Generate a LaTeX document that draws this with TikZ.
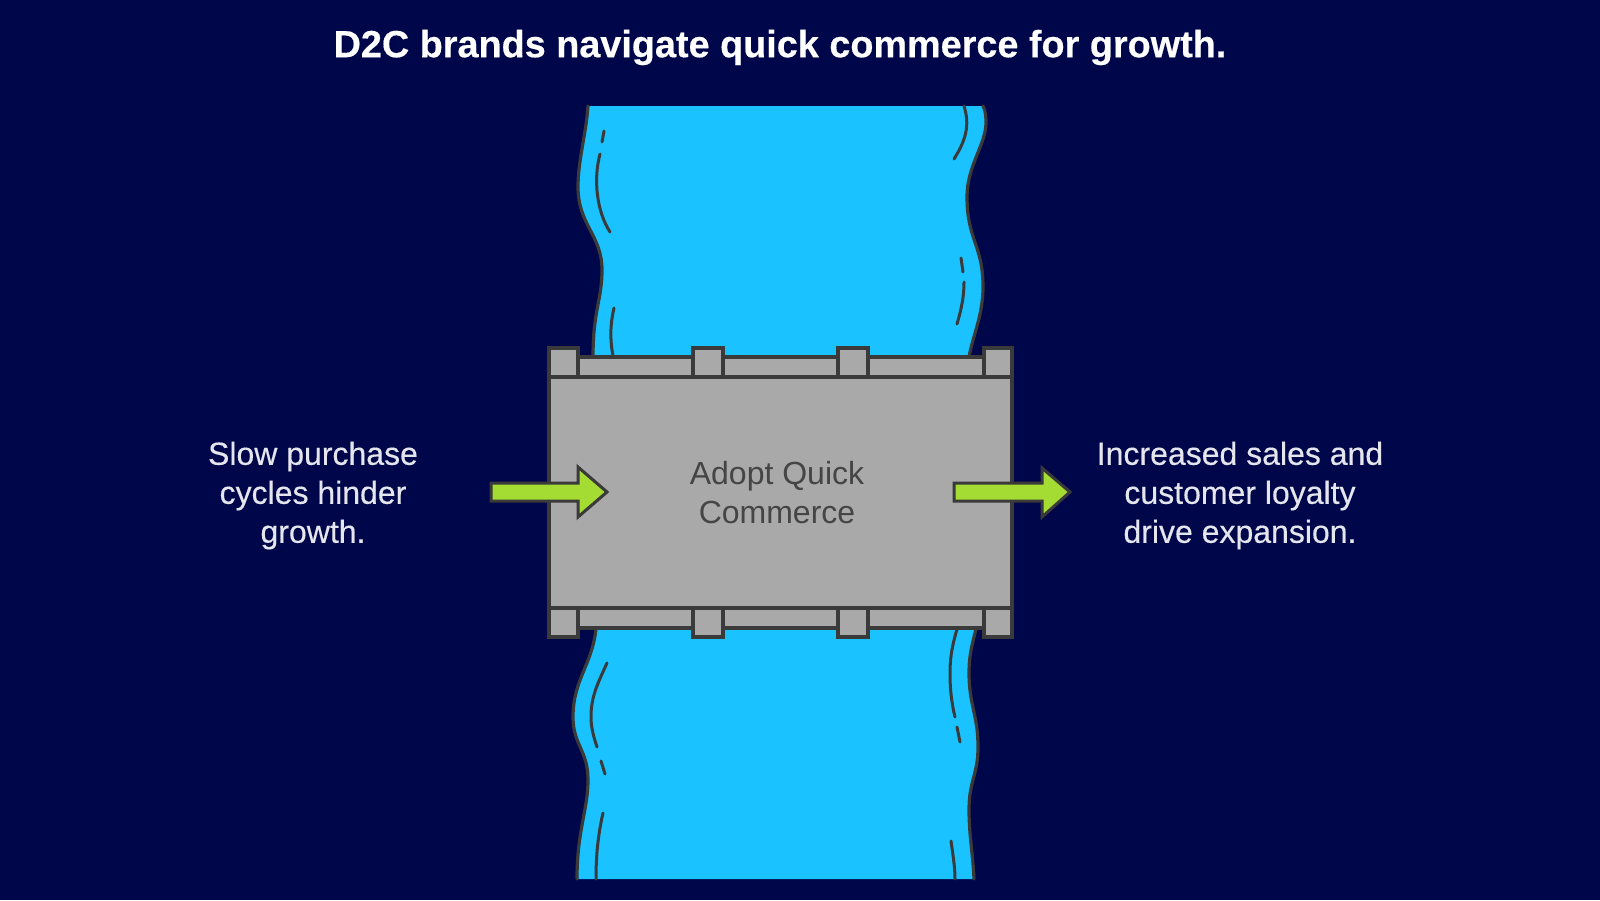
\documentclass[tikz,border=0pt]{standalone}
\usepackage{fontspec}
\setmainfont{Liberation Sans}
\newfontfamily\medfont[FakeBold=0.35]{Liberation Sans}
\newfontfamily\headfont[FakeBold=0.4]{Liberation Sans Bold}
\definecolor{bgc}{HTML}{00064A}
\definecolor{riverc}{HTML}{1AC3FF}
\definecolor{grayc}{HTML}{A9A9A9}
\definecolor{linec}{HTML}{3A3A3A}
\definecolor{greenc}{HTML}{A4DC34}
\tikzset{
  bank/.style={draw=linec,line width=3.2pt,line cap=round,line join=round},
  ripple/.style={draw=linec,line width=3pt,line cap=round},
  part/.style={draw=linec,line width=3.1pt,fill=grayc,line join=miter},
  flow/.style={draw=linec,line width=3pt,fill=greenc,line join=miter},
  label/.style={text=white!90!bgc,font=\medfont\fontsize{32}{39}\selectfont,align=center,inner sep=0pt},
}
\begin{document}
\begin{tikzpicture}[x=1pt,y=-1pt]
\useasboundingbox (0,0) rectangle (1600,900);
\fill[bgc] (0,0) rectangle (1600,900);
\node[font=\headfont\fontsize{37.8}{44}\selectfont,text=white,inner sep=0pt] (title) at (780,47.5) {D2C brands navigate quick commerce for growth.};
% river top
\fill[riverc] (588,106) .. controls (586,135) and (578,160) .. (578,187) .. controls (578,225) and (602,235) .. (602,270) .. controls (602,300) and (593,310) .. (593,357)
 -- (969,357) .. controls (973,335) and (983,315) .. (983,287) .. controls (983,245) and (967,240) .. (967,197) .. controls (967,165) and (986,145) .. (986,122) .. controls (986,115) and (985,110) .. (983,106) -- cycle;
\draw[bank] (588,106) .. controls (586,135) and (578,160) .. (578,187) .. controls (578,225) and (602,235) .. (602,270) .. controls (602,300) and (593,310) .. (593,357);
\draw[bank] (969,357) .. controls (973,335) and (983,315) .. (983,287) .. controls (983,245) and (967,240) .. (967,197) .. controls (967,165) and (986,145) .. (986,122) .. controls (986,115) and (985,110) .. (983,106);
\draw[ripple] (604,131) -- (602,142);
\draw[ripple] (600,154) .. controls (593,180) and (597,212) .. (610,232);
\draw[ripple] (614,308) .. controls (610,325) and (610,340) .. (613,356);
\draw[ripple] (964,106) .. controls (970,125) and (966,140) .. (954,159);
\draw[ripple] (961,258) -- (963,272);
\draw[ripple] (964,282) .. controls (964,298) and (961,310) .. (957,324);
% river bottom
\fill[riverc] (596,629) .. controls (592,665) and (573,680) .. (573,717) .. controls (573,745) and (588,750) .. (588,780) .. controls (588,810) and (577,830) .. (577,879)
 -- (974,879) .. controls (973,855) and (969,835) .. (969,810) .. controls (969,780) and (978,775) .. (978,747) .. controls (978,715) and (969,705) .. (969,673) .. controls (969,655) and (972,645) .. (976,629) -- cycle;
\draw[bank] (596,629) .. controls (592,665) and (573,680) .. (573,717) .. controls (573,745) and (588,750) .. (588,780) .. controls (588,810) and (577,830) .. (577,879);
\draw[bank] (974,879) .. controls (973,855) and (969,835) .. (969,810) .. controls (969,780) and (978,775) .. (978,747) .. controls (978,715) and (969,705) .. (969,673) .. controls (969,655) and (972,645) .. (976,629);
\draw[ripple] (607,663) .. controls (597,685) and (591,697) .. (591,717) .. controls (591,728) and (594,738) .. (597,747);
\draw[ripple] (601,761) -- (605,774);
\draw[ripple] (603,813) .. controls (598,835) and (596,855) .. (596,879);
\draw[ripple] (957,629) .. controls (951,650) and (950,660) .. (950,675) .. controls (950,690) and (952,705) .. (955,717);
\draw[ripple] (957,727) -- (960,742);
\draw[ripple] (951,841) .. controls (953,855) and (955,868) .. (955,879);
% bridge
\draw[part] (560,357) rectangle (1000,377);
\draw[part] (560,608) rectangle (1000,628);
\draw[part] (549,377) rectangle (1012,608);
\foreach \a/\b in {549/578,693/723,838/868,984/1012}{
  \draw[part] (\a,348) rectangle (\b,377);
  \draw[part] (\a,608) rectangle (\b,637);
}
\node[font=\fontsize{32}{39}\selectfont,text=linec!90!grayc,align=center,inner sep=0pt] (bridge) at (777,493) {Adopt Quick\\Commerce};
% arrows
\draw[flow] (491,483) -- (578,483) -- (578,467) -- (607,492) -- (578,517) -- (578,501) -- (491,501) -- cycle;
\draw[flow] (954,483) -- (1042,483) -- (1042,468) -- (1070,492) -- (1042,517) -- (1042,501) -- (954,501) -- cycle;
\node[label] (left) at (313,495.5) {Slow purchase\\cycles hinder\\growth.};
\node[label] (right) at (1240,495.5) {Increased sales and\\customer loyalty\\drive expansion.};
\end{tikzpicture}
\end{document}
